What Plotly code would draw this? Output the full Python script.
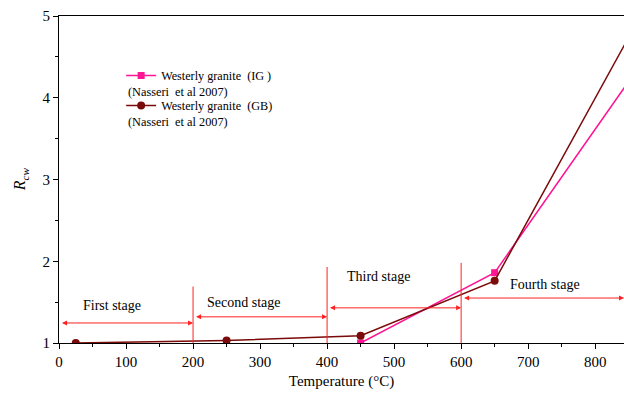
import plotly.graph_objects as go

# Data
ig_temp = [450, 650, 850]
ig_rcw = [1.0, 1.86, 4.2]
gb_temp = [25, 250, 450, 650, 850]
gb_rcw = [1.0, 1.03, 1.09, 1.76, 4.74]

stage_names = ["First stage", "Second stage", "Third stage", "Fourth stage"]
stage_start = [0, 200, 400, 600]
stage_end = [200, 400, 600, 843]
stage_arrow_y = [1.245, 1.32, 1.43, 1.55]
stage_text_x = [79, 275, 476, 725]
stage_text_y = [1.46, 1.50, 1.81, 1.72]
divider_x = [200, 400, 600]
divider_top = [1.69, 1.93, 1.98]

FONT = "Times New Roman, Liberation Serif, serif"
RED = "#ff2020"

fig = go.Figure()
fig.add_trace(go.Scatter(x=ig_temp, y=ig_rcw, mode="lines+markers",
                         name="Westerly granite  (IG )", legendgroup="ig",
                         line=dict(color="#ff1493", width=1.5),
                         marker=dict(symbol="square", size=7, color="#ff1493")))
fig.add_trace(go.Scatter(x=gb_temp, y=gb_rcw, mode="lines+markers",
                         name="Westerly granite  (GB)", legendgroup="gb",
                         line=dict(color="#7b0a0a", width=1.5),
                         marker=dict(symbol="circle", size=8, color="#7b0a0a")))

for x, top in zip(divider_x, divider_top):
    fig.add_shape(type="line", x0=x, x1=x, y0=1, y1=top, xref="x", yref="y",
                  line=dict(color=RED, width=1))

for s, e, y in zip(stage_start, stage_end, stage_arrow_y):
    fig.add_annotation(x=e, y=y, ax=s, ay=y, xref="x", yref="y", axref="x", ayref="y",
                       showarrow=True, arrowhead=2, arrowside="end+start", arrowsize=1,
                       arrowwidth=1, arrowcolor=RED, text=" ")

for name, x, y in zip(stage_names, stage_text_x, stage_text_y):
    fig.add_annotation(x=x, y=y, xref="x", yref="y", text=name, showarrow=False,
                       font=dict(family=FONT, size=14, color="black"))

for yy in [92, 122]:
    fig.add_annotation(x=(126 - 59) / 565, y=1 - (yy - 16) / 327, xref="paper", yref="paper",
                       text="(Nasseri  et al 2007)", showarrow=False, xanchor="left",
                       yanchor="middle",
                       font=dict(family=FONT, size=12.3, color="black"))

fig.add_annotation(x=-0.088, y=0.5, xref="paper", yref="paper", showarrow=False,
                   text="<i>R</i><sub><i>cw</i></sub>", textangle=-90,
                   font=dict(family=FONT, size=16, color="black"))

axis_common = dict(showgrid=False, zeroline=False, showline=True, linecolor="black",
                   linewidth=1, ticks="outside", ticklen=5, tickcolor="black",
                   tickfont=dict(family=FONT, size=15, color="black"))

fig.update_xaxes(range=[0, 843], tickvals=[0, 100, 200, 300, 400, 500, 600, 700, 800],
                 minor=dict(ticks="outside", ticklen=3, dtick=50, tickcolor="black", tick0=0),
                 title=dict(text="Temperature (°C)", font=dict(family=FONT, size=15, color="black"),
                            standoff=6),
                 mirror=True, **axis_common)
fig.update_yaxes(range=[1, 5], tickvals=[1, 2, 3, 4, 5],
                 minor=dict(ticks="outside", ticklen=3, dtick=0.5, tickcolor="black", tick0=1),
                 **axis_common)

fig.update_layout(width=624, height=393, margin=dict(l=59, r=0, t=16, b=50),
                  plot_bgcolor="white", paper_bgcolor="white",
                  font=dict(family=FONT, size=13, color="black"),
                  legend=dict(x=0.110, y=1 - (61 - 16) / 327, xanchor="left", yanchor="top",
                              bgcolor="rgba(0,0,0,0)",
                              font=dict(family=FONT, size=12.2, color="black"),
                              tracegroupgap=11, itemwidth=30))

fig.write_html("out.html")
